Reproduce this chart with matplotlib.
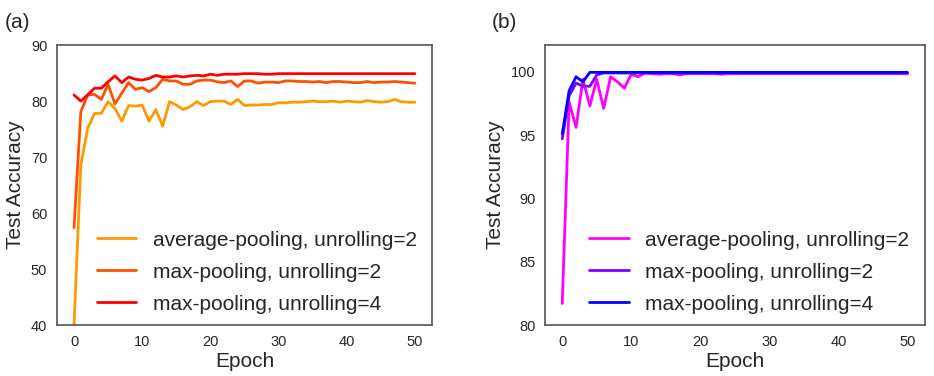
import matplotlib
matplotlib.use('Agg')
import matplotlib.pyplot as plt
import seaborn as sns

# --- 데이터 ---
epochs = list(range(51))

# (a)
avg_pool_2_a = [40.0, 68.6, 75.1, 77.8, 77.8, 79.9, 78.7, 76.4, 79.2, 79.1,
                79.3, 76.4, 78.5, 75.5, 79.9, 79.3, 78.5, 79.0, 79.9, 79.2,
                79.9, 80.0, 80.0, 79.4, 80.3, 79.2, 79.3, 79.3, 79.4, 79.4,
                79.7, 79.7, 79.8, 79.8, 79.9, 80.0, 79.9, 79.9, 80.0, 79.8,
                80.0, 79.9, 79.8, 80.1, 79.9, 79.8, 79.9, 80.3, 79.9, 79.8,
                79.8]
max_pool_2_a = [57.4, 78.1, 81.1, 81.2, 80.3, 83.0, 79.5, 81.4, 83.3, 82.1,
                82.4, 81.7, 82.4, 83.9, 83.6, 83.6, 83.0, 83.0, 83.6, 83.75,
                83.75, 83.45, 83.3, 83.6, 82.6, 83.6, 83.6, 83.2, 83.4, 83.4,
                83.3, 83.6, 83.6, 83.5, 83.5, 83.4, 83.5, 83.3, 83.5, 83.5,
                83.4, 83.3, 83.3, 83.5, 83.3, 83.4, 83.4, 83.5, 83.4, 83.3,
                83.2]
max_pool_4_a = [81.1, 80.0, 81.1, 82.3, 82.3, 83.45, 84.5, 83.3, 84.3, 83.9,
                83.75, 84.05, 84.6, 84.3, 84.3, 84.5, 84.3, 84.5, 84.6, 84.5,
                84.8, 84.6, 84.8, 84.8, 84.8, 84.9, 84.9, 84.9, 84.8, 84.8,
                84.9, 84.9, 84.9, 84.9, 84.9, 84.9, 84.9, 84.9, 84.9, 84.9,
                84.9, 84.9, 84.9, 84.9, 84.9, 84.9, 84.9, 84.9, 84.9, 84.9,
                84.9]

# (b)
avg_pool_2_b = [81.7, 97.6, 95.6, 99.4, 97.3, 99.4, 97.1, 99.6, 99.2, 98.7,
                99.8, 99.6, 99.9, 99.85, 99.8, 99.85, 99.85, 99.75, 99.85, 99.85,
                99.85, 99.85, 99.85, 99.8, 99.85, 99.85, 99.85, 99.85, 99.85, 99.85,
                99.85, 99.85, 99.85, 99.85, 99.85, 99.85, 99.85, 99.85, 99.85, 99.85,
                99.85, 99.85, 99.85, 99.85, 99.85, 99.85, 99.85, 99.85, 99.85, 99.85,
                99.85]
max_pool_2_b = [94.7, 98.1, 99.1, 98.85, 98.85, 99.75, 99.9, 99.9, 99.9, 99.9,
                99.9, 99.9, 99.9, 99.9, 99.9, 99.9, 99.9, 99.9, 99.9, 99.9,
                99.9, 99.9, 99.9, 99.9, 99.9, 99.9, 99.9, 99.9, 99.9, 99.9,
                99.9, 99.9, 99.9, 99.9, 99.9, 99.9, 99.9, 99.9, 99.9, 99.9,
                99.9, 99.9, 99.9, 99.9, 99.9, 99.9, 99.9, 99.9, 99.9, 99.9,
                99.9]
max_pool_4_b = [95.1, 98.5, 99.6, 99.2, 99.95, 99.95, 99.95, 99.95, 99.95, 99.95,
                99.95, 99.95, 99.95, 99.95, 99.95, 99.95, 99.95, 99.95, 99.95, 99.95,
                99.95, 99.95, 99.95, 99.95, 99.95, 99.95, 99.95, 99.95, 99.95, 99.95,
                99.95, 99.95, 99.95, 99.95, 99.95, 99.95, 99.95, 99.95, 99.95, 99.95,
                99.95, 99.95, 99.95, 99.95, 99.95, 99.95, 99.95, 99.95, 99.95, 99.95,
                99.95]

labels = ['average-pooling, unrolling=2', 'max-pooling, unrolling=2', 'max-pooling, unrolling=4']
colors_a = ['#FF9900', '#FF5000', '#FF0000']
colors_b = ['#FF00FF', '#8000FF', '#0000FF']

# --- 스타일 ---
sns.set_style('white')
plt.rcParams['font.family'] = ['Liberation Sans', 'DejaVu Sans']
plt.rcParams['text.color'] = '#262626'
plt.rcParams['axes.labelcolor'] = '#262626'
plt.rcParams['xtick.color'] = '#262626'
plt.rcParams['ytick.color'] = '#262626'

fig = plt.figure(figsize=(9.34, 3.76), dpi=100)
ax1 = fig.add_axes([0.061, 0.1356, 0.4015, 0.7444])
ax2 = fig.add_axes([0.5835, 0.1356, 0.4065, 0.7444])

for ax, series, colors, ylim in [
    (ax1, [avg_pool_2_a, max_pool_2_a, max_pool_4_a], colors_a, (40, 90)),
    (ax2, [avg_pool_2_b, max_pool_2_b, max_pool_4_b], colors_b, (80, 102.1)),
]:
    for ys, c, lab in zip(series, colors, labels):
        ax.plot(epochs, ys, color=c, linewidth=2, label=lab)
    ax.set_ylim(*ylim)
    ax.set_xlim(-2.5, 52.5)
    ax.set_xticks([0, 10, 20, 30, 40, 50])
    ax.set_xlabel('Epoch', fontsize=15, labelpad=2)
    ax.set_ylabel('Test Accuracy', fontsize=15)
    ax.tick_params(labelsize=10.5)
    for s in ax.spines.values():
        s.set_color('#555555')
        s.set_linewidth(1.2)
    ax.legend(loc='lower right', bbox_to_anchor=(0.99, 0.0), frameon=False,
              fontsize=15, handlelength=1.9, handletextpad=0.8,
              labelspacing=0.62, borderaxespad=0.15)

ax1.set_yticks([40, 50, 60, 70, 80, 90])
ax2.set_yticks([80, 85, 90, 95, 100])

fig.text(0.005, 0.925, '(a)', fontsize=15)
fig.text(0.527, 0.925, '(b)', fontsize=15)

plt.savefig('out.png', dpi=100)
plt.close()
